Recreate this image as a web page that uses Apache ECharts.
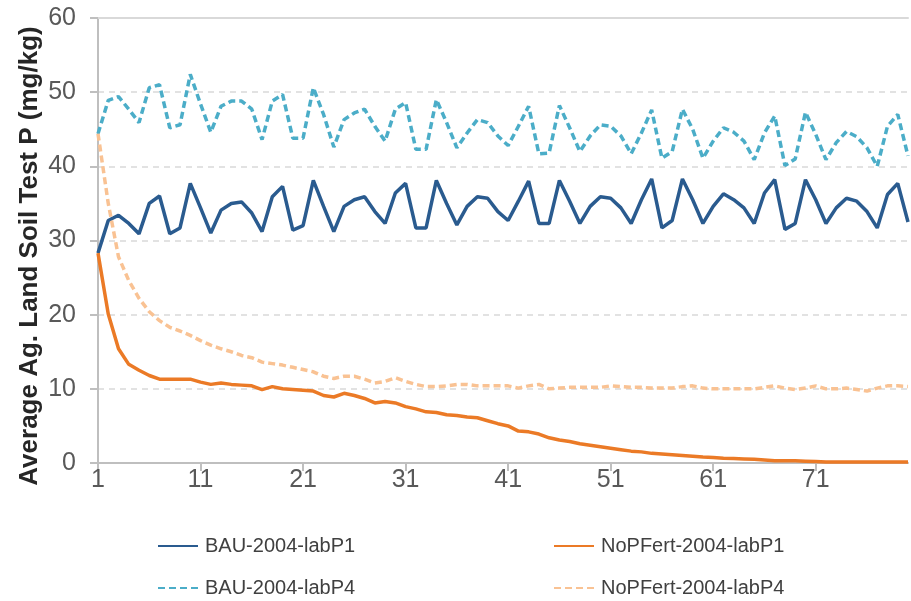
<!DOCTYPE html>
<html>
<head>
<meta charset="utf-8">
<script src="https://cdn.jsdelivr.net/npm/echarts@6/dist/echarts.min.js"></script>
<style>
html,body{margin:0;padding:0;background:#fff;}
#chart{width:911px;height:601px;}
</style>
</head>
<body>
<div id="chart"></div>
<script>
const categories = ['1','2','3','4','5','6','7','8','9','10','11','12','13','14','15','16','17','18','19','20',
'21','22','23','24','25','26','27','28','29','30','31','32','33','34','35','36','37','38','39','40',
'41','42','43','44','45','46','47','48','49','50','51','52','53','54','55','56','57','58','59','60',
'61','62','63','64','65','66','67','68','69','70','71','72','73','74','75','76','77','78','79','80'];

const seriesNames = ['BAU-2004-labP1','NoPFert-2004-labP1','BAU-2004-labP4','NoPFert-2004-labP4'];

const bauP1 = [28.3,32.7,33.4,32.3,30.9,35.0,36.0,30.9,31.7,37.7,
34.4,31.0,34.1,35.0,35.2,33.7,31.2,35.9,37.3,31.4,
32.0,38.1,34.6,31.2,34.6,35.5,35.9,33.9,32.3,36.4,
37.7,31.7,31.7,38.1,35.0,32.1,34.6,35.9,35.7,33.9,
32.7,35.3,38.0,32.3,32.3,38.1,35.3,32.3,34.6,35.9,
35.7,34.4,32.3,35.5,38.3,31.7,32.7,38.3,35.5,32.3,
34.6,36.3,35.5,34.4,32.3,36.4,38.2,31.5,32.3,38.2,
35.5,32.3,34.4,35.7,35.3,33.9,31.7,36.2,37.7,32.5];

const noPFertP1 = [28.3,20.1,15.4,13.3,12.5,11.8,11.3,11.3,11.3,11.3,
10.9,10.6,10.8,10.6,10.5,10.4,9.9,10.3,10.0,9.9,
9.8,9.7,9.1,8.9,9.4,9.1,8.7,8.1,8.3,8.1,
7.6,7.3,6.9,6.8,6.5,6.4,6.2,6.1,5.7,5.3,
5.0,4.3,4.2,3.9,3.4,3.1,2.9,2.6,2.4,2.2,
2.0,1.8,1.6,1.5,1.3,1.2,1.1,1.0,0.9,0.8,
0.75,0.65,0.6,0.55,0.5,0.4,0.3,0.3,0.3,0.25,
0.2,0.15,0.15,0.15,0.15,0.15,0.15,0.15,0.15,0.15];

const bauP4 = [44.4,48.9,49.4,47.7,45.9,50.6,51.0,45.2,45.6,52.4,
48.4,44.6,48.1,48.8,48.8,47.7,43.6,48.8,49.7,43.8,
43.8,50.6,47.0,42.6,46.3,47.2,47.7,45.4,43.4,47.7,
48.6,42.3,42.3,49.0,45.9,42.5,44.5,46.3,45.9,44.1,
42.8,45.4,48.1,41.7,41.8,48.2,45.2,42.0,44.1,45.6,
45.4,44.1,41.7,44.5,47.6,41.1,42.0,47.7,45.0,41.1,
43.4,45.2,44.6,43.4,40.9,44.5,46.8,40.1,41.0,47.3,
44.3,40.9,43.2,44.7,44.0,42.5,40.0,45.4,47.0,41.4];

const noPFertP4 = [44.4,35.0,27.8,24.6,22.2,20.4,19.2,18.3,17.8,17.2,
16.5,15.9,15.4,15.0,14.5,14.2,13.6,13.4,13.2,12.9,
12.6,12.3,11.7,11.4,11.7,11.7,11.3,10.8,11.0,11.5,
11.0,10.6,10.3,10.3,10.4,10.6,10.6,10.4,10.4,10.4,
10.4,10.1,10.4,10.6,10.0,10.1,10.2,10.2,10.2,10.2,
10.4,10.3,10.2,10.2,10.1,10.1,10.1,10.3,10.4,10.1,
10.0,10.0,10.0,10.0,10.0,10.2,10.4,10.1,9.9,10.1,
10.4,10.0,10.0,10.1,9.9,9.7,10.1,10.4,10.4,10.3];

const yTitle = 'Average Ag. Land Soil Test P (mg/kg)';
const FONT = '"Liberation Sans", Arial, sans-serif';

const chart = echarts.init(document.getElementById('chart'), null, {renderer:'canvas'});

function legendAt(name, left, top){
  return {
    data:[name], left:left, top:top, padding:0, itemGap:0,
    itemWidth:40, itemHeight:14,
    itemStyle:{opacity:0},
    textStyle:{fontSize:20, color:'#404040', fontFamily:FONT, padding:[0,0,0,2]}
  };
}

const option = {
  animation:false,
  backgroundColor:'#ffffff',
  textStyle:{fontFamily:FONT},
  grid:{left:98, right:3, top:18, bottom:138, containLabel:false},
  legend:[
    legendAt(seriesNames[0],157,536),
    legendAt(seriesNames[1],553,536),
    legendAt(seriesNames[2],157,578),
    legendAt(seriesNames[3],553,578)
  ],
  xAxis:[{
    type:'category', data:categories, boundaryGap:false,
    axisLine:{lineStyle:{color:'#BFBFBF', width:2}},
    axisTick:{show:true, interval:9, length:8, lineStyle:{color:'#BFBFBF', width:2}},
    axisLabel:{interval:9, color:'#595959', fontSize:25, fontFamily:FONT, margin:5},
    splitLine:{show:false}
  },{
    type:'category', data:categories, boundaryGap:false, position:'top',
    axisLine:{lineStyle:{color:'#D9D9D9', width:2}},
    axisTick:{show:false}, axisLabel:{show:false}, splitLine:{show:false}
  }],
  yAxis:{
    type:'value', min:0, max:60, interval:10,
    axisLine:{show:true, lineStyle:{color:'#BFBFBF', width:2}},
    axisTick:{show:true, length:8, lineStyle:{color:'#BFBFBF', width:2}},
    axisLabel:{color:'#595959', fontSize:25, fontFamily:FONT, margin:22, padding:[3,0,0,0]},
    splitLine:{lineStyle:{color:'#D9D9D9', type:[6,5], width:1.5}}
  },
  graphic:[{
    type:'text', x:30, y:256, rotation:Math.PI/2,
    style:{text:yTitle, font:'bold 26px "Liberation Sans", Arial, sans-serif', fill:'#262626',
      textAlign:'center', textVerticalAlign:'middle'}
  }],
  series:[
    {name:seriesNames[0], type:'line', data:bauP1, symbol:'none', smooth:false,
     lineStyle:{color:'#2A5B8F', width:3.5}, itemStyle:{color:'#2A5B8F'}},
    {name:seriesNames[1], type:'line', data:noPFertP1, symbol:'none',
     lineStyle:{color:'#EB7A26', width:3.5}, itemStyle:{color:'#EB7A26'}},
    {name:seriesNames[2], type:'line', data:bauP4, symbol:'none',
     lineStyle:{color:'#4BADC8', width:3.5, type:[7,4]}, itemStyle:{color:'#4BADC8'}},
    {name:seriesNames[3], type:'line', data:noPFertP4, symbol:'none',
     lineStyle:{color:'#F9C293', width:3.5, type:[7,4]}, itemStyle:{color:'#F9C293'}}
  ]
};
chart.setOption(option);
</script>
</body>
</html>
